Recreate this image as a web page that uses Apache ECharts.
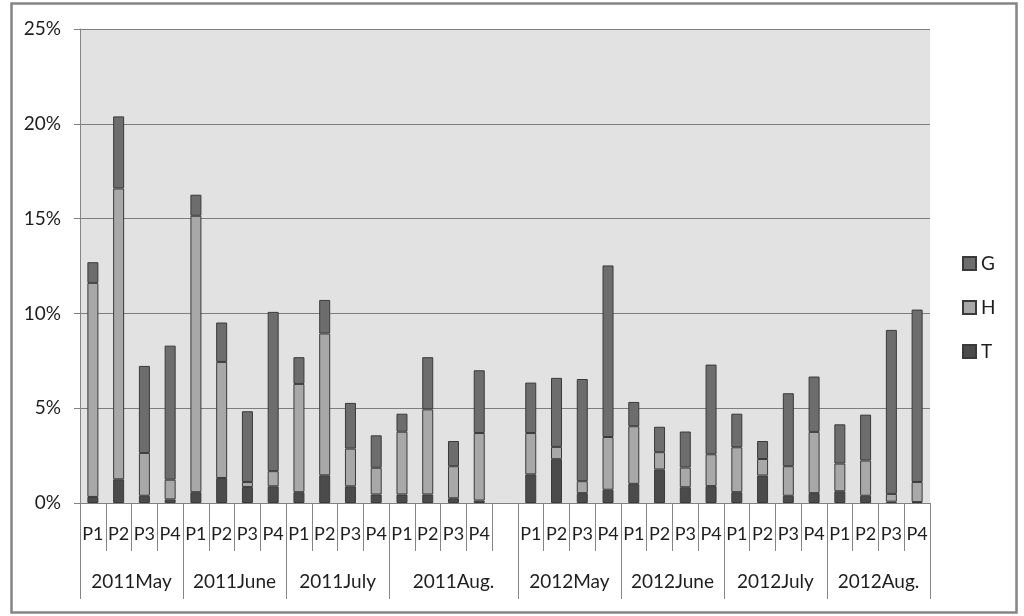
<!DOCTYPE html>
<html>
<head>
<meta charset="utf-8">
<script src="https://cdn.jsdelivr.net/npm/echarts@6/dist/echarts.min.js"></script>
<style>
html,body{margin:0;padding:0;background:#fff;}
#chart{width:1024px;height:616px;}
</style>
</head>
<body>
<div id="chart"></div>
<script>
// Categories (33 slots, one empty gap after 2011Aug. P4)
var categories = ['P1','P2','P3','P4','P1','P2','P3','P4','P1','P2','P3','P4','P1','P2','P3','P4','',
                  'P1','P2','P3','P4','P1','P2','P3','P4','P1','P2','P3','P4','P1','P2','P3','P4'];
var groupLabels = ['2011May','2011June','2011July','2011Aug.','2012May','2012June','2012July','2012Aug.'];
var groupSizes = [4,4,4,5,4,4,4,4];

var T = [0.32,1.25,0.38,0.19, 0.57,1.32,0.84,0.88, 0.57,1.46,0.88,0.45, 0.45,0.45,0.25,0.13, null,
         1.51,2.31,0.52,0.70, 1.01,1.77,0.83,0.89, 0.57,1.45,0.38,0.52, 0.62,0.38,0.07,0.05];
var H = [11.29,15.34,2.26,1.04, 14.58,6.12,0.27,0.80, 5.71,7.48,1.99,1.41, 3.31,4.49,1.69,3.56, null,
         2.18,0.65,0.63,2.78, 3.04,0.91,1.04,1.68, 2.37,0.87,1.56,3.23, 1.46,1.86,0.41,1.06];
var G = [1.09,3.80,4.59,7.07, 1.11,2.08,3.73,8.40, 1.41,1.77,2.41,1.71, 0.95,2.75,1.33,3.31, null,
         2.66,3.64,5.39,9.05, 1.28,1.34,1.90,4.73, 1.77,0.95,3.85,2.92, 2.07,2.42,8.65,9.09];
var yTicks = {min:0, max:25, interval:5};

// Build half-step axis for the group level (boundaryGap false, 2 slots per category)
var n = categories.length;
var groupAxisData = [];
for (var i = 0; i <= 2*n; i++) groupAxisData.push('');
var boundaries = [0];
var start = 0;
for (var g = 0; g < groupLabels.length; g++) {
  groupAxisData[2*start + groupSizes[g]] = groupLabels[g];
  start += groupSizes[g];
  boundaries.push(2*start);
}

var FONT = 'Lato';
var TXT = '#1e1e1e';
var chart = echarts.init(document.getElementById('chart'));
chart.setOption({
  animation: false,
  backgroundColor: '#ffffff',
  graphic: [{
    type: 'rect', left: 9, top: 1,
    shape: {width: 1005, height: 609},
    style: {fill: 'none', stroke: '#858585', lineWidth: 2.5}
  }],
  grid: {left: 80, right: 94, top: 29, bottom: 113, show: true, backgroundColor: '#e2e2e2', borderWidth: 0},
  legend: {
    orient: 'vertical', left: 957, top: 249,
    data: ['G','H','T'],
    itemWidth: 13, itemHeight: 13, itemGap: 25,
    icon: 'rect',
    textStyle: {fontFamily: FONT, fontSize: 19, color: TXT}
  },
  xAxis: [{
    type: 'category', data: categories, position: 'bottom',
    axisLine: {show: true, lineStyle: {color: '#808080', width: 1.2}},
    axisTick: {show: true, interval: 0, length: 48, alignWithLabel: false, lineStyle: {color: '#858585'}},
    axisLabel: {interval: 0, margin: 22, fontFamily: FONT, fontSize: 18, color: TXT},
    splitLine: {show: false}
  }, {
    type: 'category', data: groupAxisData, position: 'bottom', boundaryGap: false,
    axisLine: {show: false},
    axisTick: {show: true, length: 96, lineStyle: {color: '#858585'},
      interval: function (idx) { return boundaries.indexOf(idx) >= 0; }},
    axisLabel: {interval: 0, margin: 69, fontFamily: FONT, fontSize: 19, color: TXT},
    splitLine: {show: false}
  }],
  yAxis: {
    type: 'value', min: yTicks.min, max: yTicks.max, interval: yTicks.interval,
    axisLine: {show: true, lineStyle: {color: '#858585'}},
    axisTick: {show: true, length: 6, lineStyle: {color: '#808080'}},
    axisLabel: {formatter: '{value}%', margin: 19, fontFamily: FONT, fontSize: 19, color: TXT},
    splitLine: {show: true, lineStyle: {color: '#7e7e7e', width: 1.2}}
  },
  series: [
    {name: 'T', type: 'bar', stack: 'a', data: T, barWidth: 11,
     itemStyle: {color: '#4b4b4b', borderColor: '#3a3a3a', borderWidth: 1}},
    {name: 'H', type: 'bar', stack: 'a', data: H, barWidth: 11,
     itemStyle: {color: '#a8a8a8', borderColor: '#3a3a3a', borderWidth: 1}},
    {name: 'G', type: 'bar', stack: 'a', data: G, barWidth: 11,
     itemStyle: {color: '#6d6d6d', borderColor: '#3a3a3a', borderWidth: 1}}
  ]
});
</script>
</body>
</html>
